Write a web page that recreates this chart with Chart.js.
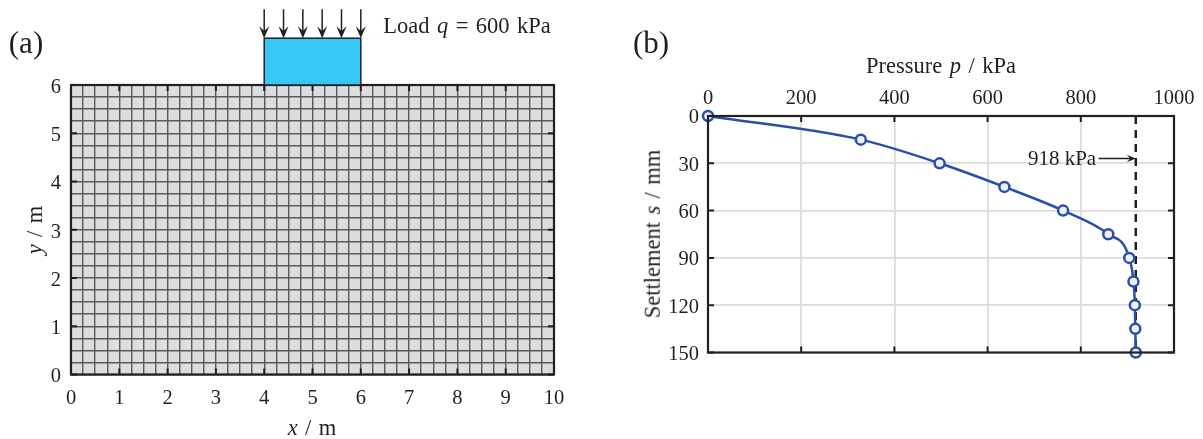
<!DOCTYPE html>
<html>
<head>
<meta charset="utf-8">
<script src="https://cdn.jsdelivr.net/npm/chart.js@4"></script>
<style>
    html, body { margin: 0; padding: 0; background: #fff; }
    #page { position: relative; width: 1203px; height: 439px; overflow: hidden; }
    canvas { position: absolute; top: 0; }
    .txt {
        position: absolute; white-space: nowrap; color: #231f20; line-height: 1;
        font-family: "Liberation Serif", serif; font-size: 22.5px; word-spacing: 1.8px;
        transform: translate(-50%, -50%);
    }
    .panel { font-size: 31px; word-spacing: 0; }
    .rot { transform: translate(-50%, -50%) rotate(-90deg); }
</style>
</head>
<body>
<div id="page">
    <canvas id="malha" width="600" height="439" style="left:0"></canvas>
    <canvas id="curva" width="603" height="439" style="left:600px"></canvas>

    <div class="txt panel" style="left:26px;top:42px">(a)</div>
    <div class="txt panel" style="left:651px;top:42px">(b)</div>
    <div class="txt" style="left:467px;top:26px">Load <i>q</i> = 600 kPa</div>
    <div class="txt" style="left:312px;top:428px"><i>x</i> / m</div>
    <div class="txt rot" style="left:35px;top:230px"><i>y</i> / m</div>
    <div class="txt" style="left:941px;top:66px">Pressure <i>p</i> / kPa</div>
    <div class="txt rot" style="left:653px;top:234px">Settlement <i>s</i> / mm</div>
    <div class="txt" style="left:1062px;top:158px;font-size:21px;word-spacing:0">918 kPa</div>
</div>

<script>
// Painel (a): malha e carga
const malhaPasso = 0.25;
const malhaX = [0, 10];
const malhaY = [0, 6];
const sapataX = [4, 6];
const sapataY = [6, 6.97];
const setasX = [4, 4.4, 4.8, 5.2, 5.6, 6];
const setasY = [6.97, 7.57];

// Painel (b): curva pressao x recalque
const pressao = [0, 328, 497, 636, 762, 859, 904, 913, 916, 917, 918];
const recalque = [0, 15, 30, 45, 60, 75, 90, 105, 120, 135, 150];
const pressaoEixo = [0, 1000];
const recalqueEixo = [0, 150];
const limiteP = [918, 918];
const limiteS = [0, 150];
const setaLimiteP = [838, 918];
const setaLimiteS = 27;

const corTexto = '#231f20';
const fonteEixo = { family: '"Liberation Serif", serif', size: 20.5 };

function seta(ctx, x1, y1, x2, y2, tam) {
    const a = Math.atan2(y2 - y1, x2 - x1);
    const c = Math.cos(a), s = Math.sin(a);
    const larg = tam * 0.42;
    ctx.strokeStyle = corTexto;
    ctx.fillStyle = corTexto;
    ctx.lineWidth = 1.5;
    ctx.beginPath();
    ctx.moveTo(x1, y1);
    ctx.lineTo(x2 - 4 * c, y2 - 4 * s);
    ctx.stroke();
    ctx.beginPath();
    ctx.moveTo(x2, y2);
    ctx.lineTo(x2 - tam * c - larg * s, y2 - tam * s + larg * c);
    ctx.lineTo(x2 - tam * 0.6 * c, y2 - tam * 0.6 * s);
    ctx.lineTo(x2 - tam * c + larg * s, y2 - tam * s - larg * c);
    ctx.closePath();
    ctx.fill();
}

// moldura e ticks para dentro, nos quatro lados
const moldura = {
    id: 'moldura',
    afterDatasetsDraw(chart, args, opts) {
        const { ctx, chartArea: a, scales } = chart;
        ctx.save();
        ctx.strokeStyle = corTexto;
        ctx.lineWidth = 2;
        scales.x.ticks.forEach(t => {
            if (t.value % opts.xMaior !== 0) return;
            const px = scales.x.getPixelForValue(t.value);
            ctx.beginPath();
            ctx.moveTo(px, a.top); ctx.lineTo(px, a.top + 6);
            ctx.moveTo(px, a.bottom); ctx.lineTo(px, a.bottom - 6);
            ctx.stroke();
        });
        scales.y.ticks.forEach(t => {
            if (t.value % opts.yMaior !== 0) return;
            const py = scales.y.getPixelForValue(t.value);
            ctx.beginPath();
            ctx.moveTo(a.left, py); ctx.lineTo(a.left + 6, py);
            ctx.moveTo(a.right, py); ctx.lineTo(a.right - 6, py);
            ctx.stroke();
        });
        ctx.lineWidth = 2.2;
        ctx.strokeRect(a.left, a.top, a.right - a.left, a.bottom - a.top);
        ctx.restore();
    }
};

const fundoMalha = {
    id: 'fundoMalha',
    beforeDraw(chart) {
        const { ctx, chartArea: a } = chart;
        ctx.save();
        ctx.fillStyle = '#dcddde';
        ctx.fillRect(a.left, a.top, a.right - a.left, a.bottom - a.top);
        ctx.restore();
    }
};

const carga = {
    id: 'carga',
    afterDraw(chart) {
        const { ctx, scales: { x, y } } = chart;
        const x0 = x.getPixelForValue(sapataX[0]), x1 = x.getPixelForValue(sapataX[1]);
        const y0 = y.getPixelForValue(sapataY[0]), y1 = y.getPixelForValue(sapataY[1]);
        ctx.save();
        ctx.fillStyle = '#38c6f6';
        ctx.strokeStyle = corTexto;
        ctx.lineWidth = 1.5;
        ctx.fillRect(x0, y1, x1 - x0, y0 - y1);
        ctx.strokeRect(x0, y1, x1 - x0, y0 - y1);
        setasX.forEach(v => {
            const px = x.getPixelForValue(v);
            seta(ctx, px, y.getPixelForValue(setasY[1]), px, y.getPixelForValue(setasY[0]), 12);
        });
        ctx.restore();
    }
};

const setaLimite = {
    id: 'setaLimite',
    afterDatasetsDraw(chart) {
        const { ctx, scales: { x, y } } = chart;
        const py = y.getPixelForValue(setaLimiteS);
        ctx.save();
        seta(ctx, x.getPixelForValue(setaLimiteP[0]), py, x.getPixelForValue(setaLimiteP[1]), py, 9);
        ctx.restore();
    }
};

new Chart(document.getElementById('malha'), {
    type: 'scatter',
    data: { datasets: [] },
    plugins: [fundoMalha, moldura, carga],
    options: {
        responsive: false,
        animation: false,
        layout: { padding: { left: 41, top: 85, right: 46, bottom: 34.5 } },
        plugins: { legend: { display: false }, tooltip: { enabled: false }, moldura: { xMaior: 1, yMaior: 1 } },
        scales: {
            x: {
                min: malhaX[0], max: malhaX[1],
                afterFit: s => { s.height = 30; },
                grid: { color: '#5a5a5c', lineWidth: 1.4, drawTicks: false },
                border: { display: false },
                ticks: {
                    stepSize: malhaPasso, autoSkip: false, maxRotation: 0, padding: 12,
                    color: corTexto, font: fonteEixo,
                    callback: v => Number.isInteger(v) ? String(v) : ''
                }
            },
            y: {
                min: malhaY[0], max: malhaY[1],
                afterFit: s => { s.width = 30; },
                grid: { color: '#5a5a5c', lineWidth: 1.4, drawTicks: false },
                border: { display: false },
                ticks: {
                    stepSize: malhaPasso, autoSkip: false, padding: 10, labelOffset: 2.5,
                    color: corTexto, font: fonteEixo,
                    callback: v => Number.isInteger(v) ? String(v) : ''
                }
            }
        }
    }
});

new Chart(document.getElementById('curva'), {
    type: 'scatter',
    data: {
        datasets: [
            {
                label: 'Curva',
                data: pressao.map((p, i) => ({ x: p, y: recalque[i] })),
                showLine: true,
                cubicInterpolationMode: 'monotone',
                borderColor: '#2a4fa8',
                borderWidth: 2.5,
                backgroundColor: '#eef1f8',
                pointRadius: 5,
                pointBorderWidth: 2.5,
                pointBorderColor: '#2a4fa8',
                clip: false,
                order: 1
            },
            {
                label: 'Limite',
                data: limiteP.map((p, i) => ({ x: p, y: limiteS[i] })),
                showLine: true,
                borderColor: corTexto,
                borderWidth: 2.5,
                borderDash: [8, 6],
                pointRadius: 0,
                order: 2
            }
        ]
    },
    plugins: [moldura, setaLimite],
    options: {
        responsive: false,
        animation: false,
        layout: { padding: { left: 48, top: 86, right: 29, bottom: 86.5 } },
        plugins: { legend: { display: false }, tooltip: { enabled: false }, moldura: { xMaior: 200, yMaior: 30 } },
        scales: {
            x: {
                position: 'top',
                min: pressaoEixo[0], max: pressaoEixo[1],
                afterFit: s => { s.height = 30; },
                grid: { color: '#dcdcdc', lineWidth: 1.8, drawTicks: false },
                border: { display: false },
                ticks: {
                    stepSize: 200, maxRotation: 0, padding: 5, color: corTexto, font: fonteEixo,
                    callback: v => String(v)
                }
            },
            y: {
                reverse: true,
                min: recalqueEixo[0], max: recalqueEixo[1],
                afterFit: s => { s.width = 60; },
                grid: { color: '#dcdcdc', lineWidth: 1.8, drawTicks: false },
                border: { display: false },
                ticks: {
                    stepSize: 30, padding: 9, labelOffset: 2, color: corTexto, font: fonteEixo,
                    callback: v => String(v)
                }
            }
        }
    }
});
</script>
</body>
</html>
